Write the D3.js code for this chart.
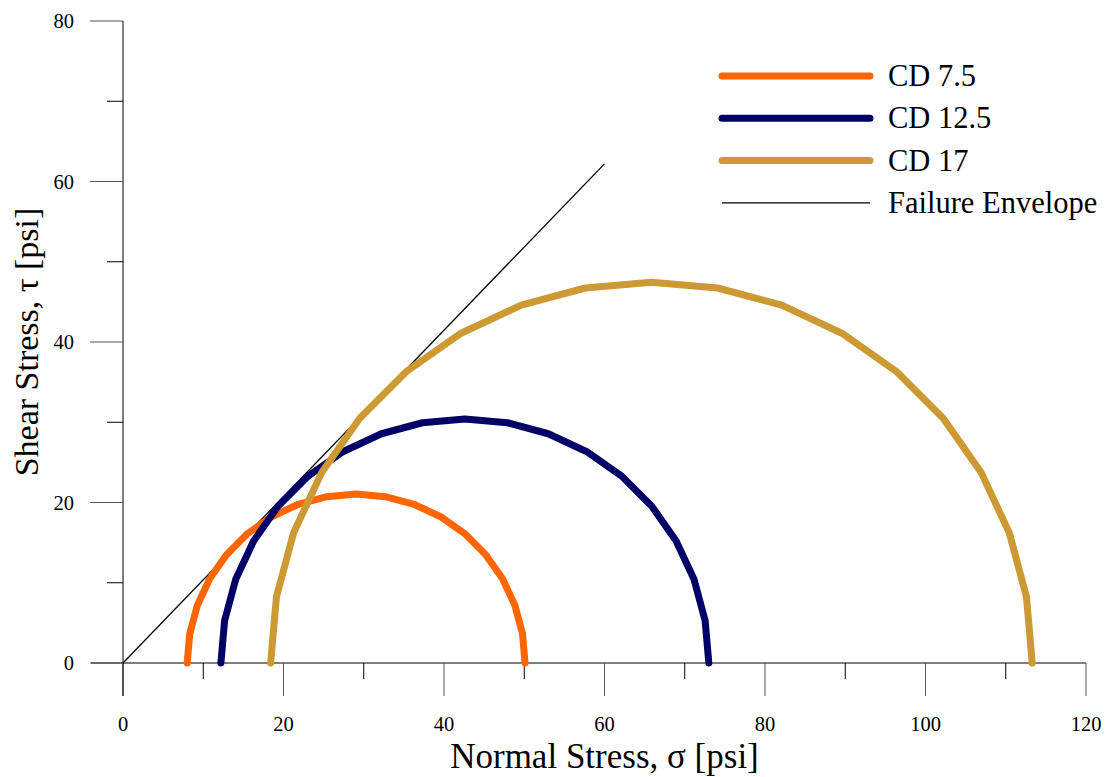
<!DOCTYPE html>
<html>
  <head>
    <meta charset="utf-8">
    <title>Mohr Circles</title>
    <script src="https://cdn.jsdelivr.net/npm/d3@7"></script>
    <style>
      body { margin: 0; background: #fff; }
      text { font-family: "Liberation Serif", "Times New Roman", serif; }
    </style>
  </head>
  <body>
    <svg width="1109" height="777" id="mainsvg"></svg>
    <script>
      // tests: minor / major principal stress (psi)
      const tests = ['CD 7.5', 'CD 12.5', 'CD 17'];
      const sigma3 = [8.0, 12.2, 18.4];
      const sigma1 = [50.1, 73.0, 113.3];
      const colors = ['#ff6600', '#000066', '#cc9933'];
      // failure envelope end points
      const envX = [0, 60];
      const envY = [0, 62.2];
      const xTicks = [0, 20, 40, 60, 80, 100, 120];
      const yTicks = [0, 20, 40, 60, 80];

      const svg = d3.select('#mainsvg');
      const margin = {top: 21, left: 123, right: 23, bottom: 114};
      const width = +svg.attr('width');
      const height = +svg.attr('height');

      const x = d3.scaleLinear().domain([0, 120]).range([margin.left, width - margin.right]);
      const y = d3.scaleLinear().domain([0, 80]).range([height - margin.bottom, margin.top]);

      // x axis
      const xAxis = svg.append('g').attr('transform', `translate(0,${y(0)})`);
      xAxis.append('line').attr('x1', x(0) - 32).attr('x2', x(120)).attr('stroke', '#000');
      xAxis.selectAll('.maj').data(xTicks).join('line')
        .attr('x1', d => x(d)).attr('x2', d => x(d)).attr('y1', 0).attr('y2', 33)
        .attr('stroke', '#555');
      xAxis.selectAll('.min').data(d3.range(10, 120, 20)).join('line')
        .attr('x1', d => x(d)).attr('x2', d => x(d)).attr('y1', 0).attr('y2', 16)
        .attr('stroke', '#000');
      xAxis.selectAll('text').data(xTicks).join('text')
        .attr('x', d => x(d)).attr('y', 68).attr('text-anchor', 'middle')
        .attr('font-size', 20.5).text(d => d);

      // y axis
      const yAxis = svg.append('g').attr('transform', `translate(${x(0)},0)`);
      yAxis.append('line').attr('y1', y(80)).attr('y2', y(0) + 33).attr('stroke', '#000');
      yAxis.selectAll('.maj').data(yTicks).join('line')
        .attr('x1', -33).attr('x2', 0).attr('y1', d => y(d)).attr('y2', d => y(d))
        .attr('stroke', '#555');
      yAxis.selectAll('.min').data(d3.range(10, 80, 20)).join('line')
        .attr('x1', -16).attr('x2', 0).attr('y1', d => y(d)).attr('y2', d => y(d))
        .attr('stroke', '#000');
      yAxis.selectAll('text').data(yTicks).join('text')
        .attr('x', -49).attr('y', d => y(d) + 7).attr('text-anchor', 'end')
        .attr('font-size', 20.5).text(d => d);

      // axis titles
      svg.append('text').attr('x', (x(0) + x(120)) / 2).attr('y', 768)
        .attr('text-anchor', 'middle').attr('font-size', 35).text('Normal Stress, σ [psi]');
      svg.append('text')
        .attr('transform', `translate(38,${(y(0) + y(80)) / 2}) rotate(-90)`)
        .attr('text-anchor', 'middle').attr('font-size', 34).text('Shear Stress, τ [psi]');

      // failure envelope
      svg.append('line')
        .attr('x1', x(envX[0])).attr('y1', y(envY[0]))
        .attr('x2', x(envX[1])).attr('y2', y(envY[1]))
        .attr('stroke', '#000').attr('stroke-width', 1.3);

      // Mohr circles, drawn as polylines every 10 degrees
      const angles = d3.range(0, 181, 10);
      const line = d3.line().x(d => x(d[0])).y(d => y(d[1]));
      tests.forEach((t, i) => {
        const c = (sigma1[i] + sigma3[i]) / 2;
        const r = (sigma1[i] - sigma3[i]) / 2;
        const pts = angles.map(a => [c + r * Math.cos(a * Math.PI / 180), r * Math.sin(a * Math.PI / 180)]);
        svg.append('path').datum(pts)
          .attr('d', line)
          .attr('fill', 'none')
          .attr('stroke', colors[i])
          .attr('stroke-width', 7)
          .attr('stroke-linecap', 'round')
          .attr('stroke-linejoin', 'round');
      });

      // legend
      const legItems = tests.map((t, i) => ({name: t, color: colors[i], w: 7}))
        .concat([{name: 'Failure Envelope', color: '#000', w: 1.3}]);
      const leg = svg.append('g').attr('transform', 'translate(722,76)');
      legItems.forEach((d, i) => {
        const row = leg.append('g').attr('transform', `translate(0,${i * 42.3})`);
        row.append('line').attr('x1', 0).attr('x2', 148)
          .attr('stroke', d.color).attr('stroke-width', d.w).attr('stroke-linecap', d.w > 2 ? 'round' : 'butt');
        row.append('text').attr('x', 166).attr('y', 10).attr('font-size', 30.5).text(d.name);
      });
    </script>
  </body>
</html>
